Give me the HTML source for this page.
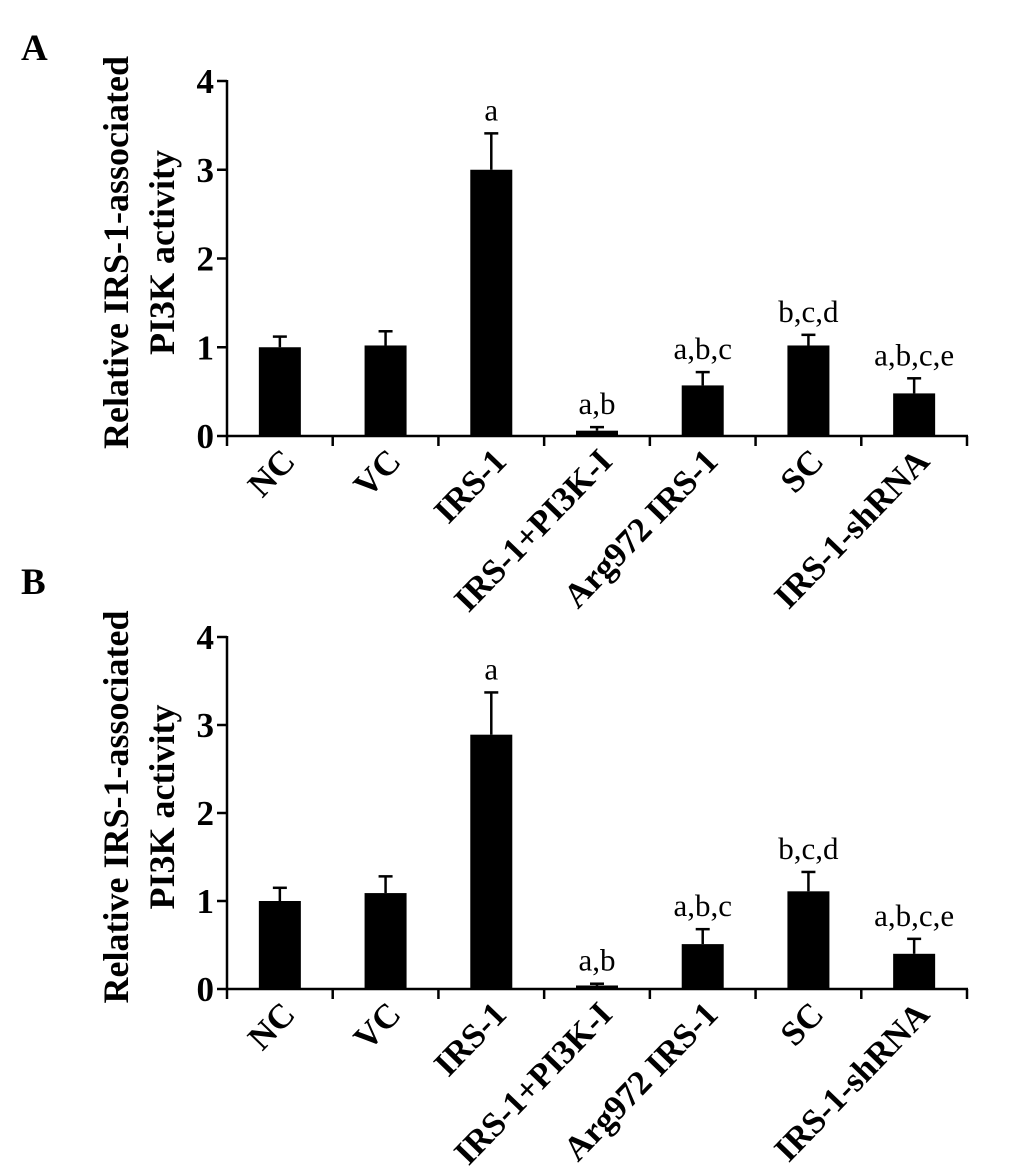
<!DOCTYPE html>
<html><head><meta charset="utf-8"><style>
html,body{margin:0;padding:0;background:#fff;}
svg{display:block;}
text{font-family:"Liberation Serif",serif;fill:#000;}
</style></head><body>
<svg id="fig" width="1033" height="1174" viewBox="0 0 1033 1174" xmlns="http://www.w3.org/2000/svg"></svg>
<script>
const categories = ["NC","VC","IRS-1","IRS-1+PI3K-I","Arg972 IRS-1","SC","IRS-1-shRNA"];
const annotations = ["","","a","a,b","a,b,c","b,c,d","a,b,c,e"];
const valuesA = [1.0,1.02,3.0,0.06,0.57,1.02,0.48];
const errorsA = [0.12,0.16,0.41,0.04,0.15,0.12,0.17];
const valuesB = [1.0,1.09,2.89,0.04,0.51,1.11,0.40];
const errorsB = [0.15,0.19,0.48,0.02,0.17,0.22,0.17];
const yTicks = [0,1,2,3,4];

const NS="http://www.w3.org/2000/svg";
const svg=document.getElementById('fig');
function mk(tag,attrs,parent){const e=document.createElementNS(NS,tag);for(const k in attrs)e.setAttribute(k,attrs[k]);(parent||svg).appendChild(e);return e;}

function panel(letter, labelY, y0, y4, values, errors){
  const g=mk('g',{});
  
  
  const x0=227, x1=967;
  const bw=(x1-x0)/categories.length;
  const ys=v=>y0-(y0-y4)*v/4;
  const xc=i=>x0+bw*(i+0.5);
  const pl=mk('text',{x:21,y:labelY,'font-size':37,'font-weight':'bold'},g);
  pl.textContent=letter;
  
  
  const cy=(y0+y4)/2-6;
  const t1=mk('text',{x:0,y:0,'font-size':36,'font-weight':'bold','text-anchor':'middle',transform:`translate(128,${cy}) rotate(-90)`},g);
  t1.textContent='Relative IRS-1-associated';
  
  
  const t2=mk('text',{x:0,y:0,'font-size':36,'font-weight':'bold','text-anchor':'middle',transform:`translate(174,${cy}) rotate(-90)`},g);
  t2.textContent='PI3K activity';
  
  
  const ya=mk('line',{x1:x0,y1:y4-1,x2:x0,y2:y0+1,stroke:'#000','stroke-width':2.5},g);
  
  
  const xa=mk('line',{x1:x0,y1:y0,x2:x1+1,y2:y0,stroke:'#000','stroke-width':2.5},g);
  
  
  yTicks.forEach(t=>{
    const y=ys(t);
    mk('line',{x1:x0-10,y1:y,x2:x0,y2:y,stroke:'#000','stroke-width':2.5},g);
    const tl=mk('text',{x:214,y:y+12,'font-size':35,'font-weight':'bold','text-anchor':'end'},g);
    tl.textContent=t;
    
    
  });
  for(let i=0;i<=categories.length;i++){
    const x=x0+bw*i;
    mk('line',{x1:x,y1:y0,x2:x,y2:y0+10,stroke:'#000','stroke-width':2.5},g);
  }
  values.forEach((v,i)=>{
    const c=xc(i), top=ys(v), et=ys(v+errors[i]);
    mk('line',{x1:c,y1:top,x2:c,y2:et,stroke:'#000','stroke-width':2.5},g);
    mk('line',{x1:c-7,y1:et,x2:c+7,y2:et,stroke:'#000','stroke-width':2.5},g);
    const r=mk('rect',{x:c-21,y:top,width:42,height:Math.max(y0-top,2),fill:'#000'},g);
    
    
    if(annotations[i]){
      const a=mk('text',{x:c,y:et-13,'font-size':31,'text-anchor':'middle'},g);
      a.textContent=annotations[i];
      
      
    }
    const xl=mk('text',{x:0,y:0,'font-size':34.5,'font-weight':'bold','text-anchor':'end',transform:`translate(${c+17},${y0+27}) rotate(-46)`},g);
    xl.textContent=categories[i];
    
    
  });
}
panel('A',60,436,81,valuesA,errorsA);
panel('B',594,989,637,valuesB,errorsB);
</script>
</body></html>
